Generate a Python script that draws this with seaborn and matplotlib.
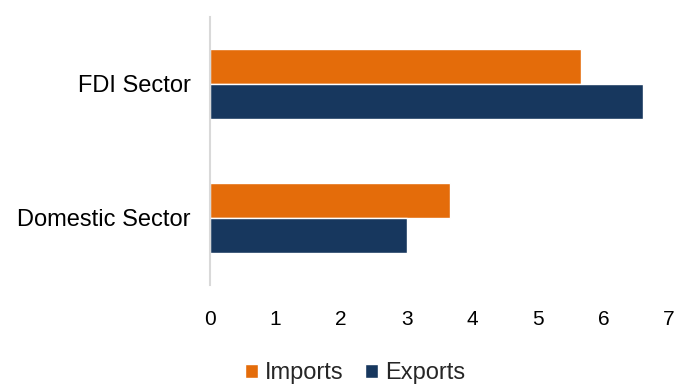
import matplotlib
matplotlib.use("Agg")
import matplotlib.pyplot as plt
import seaborn as sns
import pandas as pd

sectors = ["FDI Sector", "Domestic Sector"]
flows = ["Imports", "Exports"]
imports = [5.66, 3.66]
exports = [6.60, 3.00]
x_ticks = [0, 1, 2, 3, 4, 5, 6, 7]

df = pd.DataFrame({
    "sector": sectors * 2,
    "flow": ["Imports"] * len(sectors) + ["Exports"] * len(sectors),
    "value": imports + exports,
})

sns.set_theme(style="white")
plt.rcParams["font.family"] = ["Liberation Sans", "DejaVu Sans"]

fig = plt.figure(figsize=(6.94, 3.85), dpi=100)
ax = fig.add_axes([210 / 694, 1 - 285 / 385, (669 - 210) / 694, (285 - 17) / 385])

palette = {"Imports": "#E46C0A", "Exports": "#17375E"}
sns.barplot(data=df, x="value", y="sector", hue="flow", order=sectors,
            hue_order=flows, palette=palette, orient="h", width=0.52,
            saturation=1, ax=ax, legend=True)

ax.set_xlim(0, 7)
ax.set_ylim(1.5, -0.5)
ax.set_xticks(x_ticks)
ax.set_xticklabels([str(t) for t in x_ticks], fontsize=15, color="#000000")
ax.tick_params(axis="x", length=0, pad=18)
ax.tick_params(axis="y", length=0, pad=14, labelsize=17, labelcolor="#000000")
ax.set_xlabel("")
ax.set_ylabel("")

for side in ["top", "right", "bottom"]:
    ax.spines[side].set_visible(False)
ax.spines["left"].set_color("#D9D9D9")
ax.spines["left"].set_linewidth(1.5)

handles, labels = ax.get_legend_handles_labels()
ax.get_legend().remove()
fig.legend(handles, labels, loc="center", bbox_to_anchor=(355 / 694, 1 - 373 / 385),
           ncol=2, frameon=False, fontsize=17, handlelength=0.55, handleheight=0.55,
           handletextpad=0.3, columnspacing=0.9)

fig.savefig("out.png", dpi=100)
